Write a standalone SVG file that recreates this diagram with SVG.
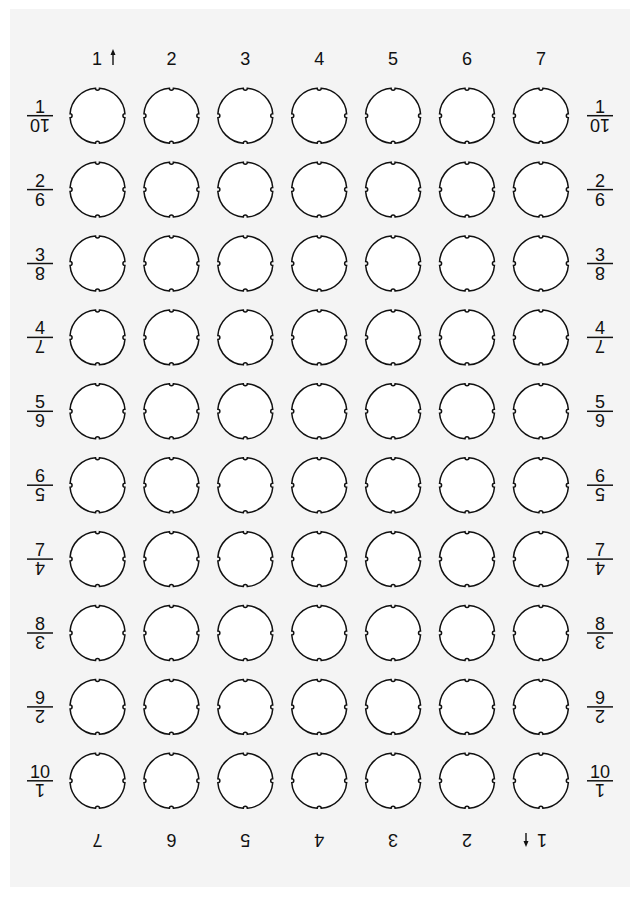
<svg xmlns="http://www.w3.org/2000/svg" xmlns:xlink="http://www.w3.org/1999/xlink" width="639" height="897" viewBox="0 0 639 897">
<style>
.t{font-family:"Liberation Sans",Arial,sans-serif;font-size:18px;fill:#111;text-anchor:middle}
.fl{stroke:#111;stroke-width:1.5}
.ar{stroke:#111;stroke-width:1.4;fill:none}
.hole{fill:#fff;stroke:#111;stroke-width:1.5}
</style>
<defs>
<path id="h" class="hole" d="M2,-27.43 A27.5,27.5 0 0 1 27.43,-2 A2,2 0 0 0 27.43,2 A27.5,27.5 0 0 1 2,27.43 A2,2 0 0 0 -2,27.43 A27.5,27.5 0 0 1 -27.43,2 A2,2 0 0 0 -27.43,-2 A27.5,27.5 0 0 1 -2,-27.43 A2,2 0 0 0 2,-27.43 Z"/>
</defs>
<rect x="0" y="0" width="639" height="897" fill="#ffffff"/>
<rect x="10" y="9" width="620" height="878" fill="#f4f4f4"/>

<g id="top-labels">
<text class="t" x="97" y="65">1</text>
<g><line class="ar" x1="113" y1="53" x2="113" y2="65"/><polygon points="113,49 110.5,55 115.5,55" fill="#111"/></g>
<text class="t" x="171.4" y="65">2</text>
<text class="t" x="245.3" y="65">3</text>
<text class="t" x="319.2" y="65">4</text>
<text class="t" x="393.1" y="65">5</text>
<text class="t" x="467" y="65">6</text>
<text class="t" x="540.9" y="65">7</text>
</g>

<g id="bottom-labels">
<text class="t" x="97.5" y="846.5" transform="rotate(180 97.5 840)">7</text>
<text class="t" x="171.4" y="846.5" transform="rotate(180 171.4 840)">6</text>
<text class="t" x="245.3" y="846.5" transform="rotate(180 245.3 840)">5</text>
<text class="t" x="319.2" y="846.5" transform="rotate(180 319.2 840)">4</text>
<text class="t" x="393.1" y="846.5" transform="rotate(180 393.1 840)">3</text>
<text class="t" x="467" y="846.5" transform="rotate(180 467 840)">2</text>
<text class="t" x="542" y="846.5" transform="rotate(180 542 840)">1</text>
<g><line class="ar" x1="526" y1="833" x2="526" y2="843"/><polygon points="526,847 523.5,841 528.5,841" fill="#111"/></g>
</g>

<g id="left-labels">
<g id="L1"><text class="t" x="40" y="112.7">1</text><line class="fl" x1="27" y1="115.7" x2="53" y2="115.7"/><text class="t" x="40" y="131.7" transform="rotate(180 40 125.2)">10</text></g>
<g id="L2"><text class="t" x="40" y="186.6">2</text><line class="fl" x1="27" y1="189.6" x2="53" y2="189.6"/><text class="t" x="40" y="205.6" transform="rotate(180 40 199.1)">9</text></g>
<g id="L3"><text class="t" x="40" y="260.5">3</text><line class="fl" x1="27" y1="263.5" x2="53" y2="263.5"/><text class="t" x="40" y="279.5" transform="rotate(180 40 273)">8</text></g>
<g id="L4"><text class="t" x="40" y="334.4">4</text><line class="fl" x1="27" y1="337.4" x2="53" y2="337.4"/><text class="t" x="40" y="353.4" transform="rotate(180 40 346.9)">7</text></g>
<g id="L5"><text class="t" x="40" y="408.3">5</text><line class="fl" x1="27" y1="411.3" x2="53" y2="411.3"/><text class="t" x="40" y="427.3" transform="rotate(180 40 420.8)">6</text></g>
<g id="L6"><text class="t" x="40" y="482.2">6</text><line class="fl" x1="27" y1="485.2" x2="53" y2="485.2"/><text class="t" x="40" y="501.2" transform="rotate(180 40 494.7)">5</text></g>
<g id="L7"><text class="t" x="40" y="556.1">7</text><line class="fl" x1="27" y1="559.1" x2="53" y2="559.1"/><text class="t" x="40" y="575.1" transform="rotate(180 40 568.6)">4</text></g>
<g id="L8"><text class="t" x="40" y="630">8</text><line class="fl" x1="27" y1="633" x2="53" y2="633"/><text class="t" x="40" y="649" transform="rotate(180 40 642.5)">3</text></g>
<g id="L9"><text class="t" x="40" y="703.9">9</text><line class="fl" x1="27" y1="706.9" x2="53" y2="706.9"/><text class="t" x="40" y="722.9" transform="rotate(180 40 716.4)">2</text></g>
<g id="L10"><text class="t" x="40" y="777.8">10</text><line class="fl" x1="27" y1="780.8" x2="53" y2="780.8"/><text class="t" x="40" y="796.8" transform="rotate(180 40 790.3)">1</text></g>
</g>

<g id="right-labels">
<g id="R1"><text class="t" x="600" y="112.7">1</text><line class="fl" x1="587" y1="115.7" x2="613" y2="115.7"/><text class="t" x="600" y="131.7" transform="rotate(180 600 125.2)">10</text></g>
<g id="R2"><text class="t" x="600" y="186.6">2</text><line class="fl" x1="587" y1="189.6" x2="613" y2="189.6"/><text class="t" x="600" y="205.6" transform="rotate(180 600 199.1)">9</text></g>
<g id="R3"><text class="t" x="600" y="260.5">3</text><line class="fl" x1="587" y1="263.5" x2="613" y2="263.5"/><text class="t" x="600" y="279.5" transform="rotate(180 600 273)">8</text></g>
<g id="R4"><text class="t" x="600" y="334.4">4</text><line class="fl" x1="587" y1="337.4" x2="613" y2="337.4"/><text class="t" x="600" y="353.4" transform="rotate(180 600 346.9)">7</text></g>
<g id="R5"><text class="t" x="600" y="408.3">5</text><line class="fl" x1="587" y1="411.3" x2="613" y2="411.3"/><text class="t" x="600" y="427.3" transform="rotate(180 600 420.8)">6</text></g>
<g id="R6"><text class="t" x="600" y="482.2">6</text><line class="fl" x1="587" y1="485.2" x2="613" y2="485.2"/><text class="t" x="600" y="501.2" transform="rotate(180 600 494.7)">5</text></g>
<g id="R7"><text class="t" x="600" y="556.1">7</text><line class="fl" x1="587" y1="559.1" x2="613" y2="559.1"/><text class="t" x="600" y="575.1" transform="rotate(180 600 568.6)">4</text></g>
<g id="R8"><text class="t" x="600" y="630">8</text><line class="fl" x1="587" y1="633" x2="613" y2="633"/><text class="t" x="600" y="649" transform="rotate(180 600 642.5)">3</text></g>
<g id="R9"><text class="t" x="600" y="703.9">9</text><line class="fl" x1="587" y1="706.9" x2="613" y2="706.9"/><text class="t" x="600" y="722.9" transform="rotate(180 600 716.4)">2</text></g>
<g id="R10"><text class="t" x="600" y="777.8">10</text><line class="fl" x1="587" y1="780.8" x2="613" y2="780.8"/><text class="t" x="600" y="796.8" transform="rotate(180 600 790.3)">1</text></g>
</g>

<g id="holes">
<g id="row1"><use href="#h" x="97.5" y="115.7"/><use href="#h" x="171.4" y="115.7"/><use href="#h" x="245.3" y="115.7"/><use href="#h" x="319.2" y="115.7"/><use href="#h" x="393.1" y="115.7"/><use href="#h" x="467" y="115.7"/><use href="#h" x="540.9" y="115.7"/></g>
<g id="row2"><use href="#h" x="97.5" y="189.6"/><use href="#h" x="171.4" y="189.6"/><use href="#h" x="245.3" y="189.6"/><use href="#h" x="319.2" y="189.6"/><use href="#h" x="393.1" y="189.6"/><use href="#h" x="467" y="189.6"/><use href="#h" x="540.9" y="189.6"/></g>
<g id="row3"><use href="#h" x="97.5" y="263.5"/><use href="#h" x="171.4" y="263.5"/><use href="#h" x="245.3" y="263.5"/><use href="#h" x="319.2" y="263.5"/><use href="#h" x="393.1" y="263.5"/><use href="#h" x="467" y="263.5"/><use href="#h" x="540.9" y="263.5"/></g>
<g id="row4"><use href="#h" x="97.5" y="337.4"/><use href="#h" x="171.4" y="337.4"/><use href="#h" x="245.3" y="337.4"/><use href="#h" x="319.2" y="337.4"/><use href="#h" x="393.1" y="337.4"/><use href="#h" x="467" y="337.4"/><use href="#h" x="540.9" y="337.4"/></g>
<g id="row5"><use href="#h" x="97.5" y="411.3"/><use href="#h" x="171.4" y="411.3"/><use href="#h" x="245.3" y="411.3"/><use href="#h" x="319.2" y="411.3"/><use href="#h" x="393.1" y="411.3"/><use href="#h" x="467" y="411.3"/><use href="#h" x="540.9" y="411.3"/></g>
<g id="row6"><use href="#h" x="97.5" y="485.2"/><use href="#h" x="171.4" y="485.2"/><use href="#h" x="245.3" y="485.2"/><use href="#h" x="319.2" y="485.2"/><use href="#h" x="393.1" y="485.2"/><use href="#h" x="467" y="485.2"/><use href="#h" x="540.9" y="485.2"/></g>
<g id="row7"><use href="#h" x="97.5" y="559.1"/><use href="#h" x="171.4" y="559.1"/><use href="#h" x="245.3" y="559.1"/><use href="#h" x="319.2" y="559.1"/><use href="#h" x="393.1" y="559.1"/><use href="#h" x="467" y="559.1"/><use href="#h" x="540.9" y="559.1"/></g>
<g id="row8"><use href="#h" x="97.5" y="633"/><use href="#h" x="171.4" y="633"/><use href="#h" x="245.3" y="633"/><use href="#h" x="319.2" y="633"/><use href="#h" x="393.1" y="633"/><use href="#h" x="467" y="633"/><use href="#h" x="540.9" y="633"/></g>
<g id="row9"><use href="#h" x="97.5" y="706.9"/><use href="#h" x="171.4" y="706.9"/><use href="#h" x="245.3" y="706.9"/><use href="#h" x="319.2" y="706.9"/><use href="#h" x="393.1" y="706.9"/><use href="#h" x="467" y="706.9"/><use href="#h" x="540.9" y="706.9"/></g>
<g id="row10"><use href="#h" x="97.5" y="780.8"/><use href="#h" x="171.4" y="780.8"/><use href="#h" x="245.3" y="780.8"/><use href="#h" x="319.2" y="780.8"/><use href="#h" x="393.1" y="780.8"/><use href="#h" x="467" y="780.8"/><use href="#h" x="540.9" y="780.8"/></g>
</g>
</svg>
